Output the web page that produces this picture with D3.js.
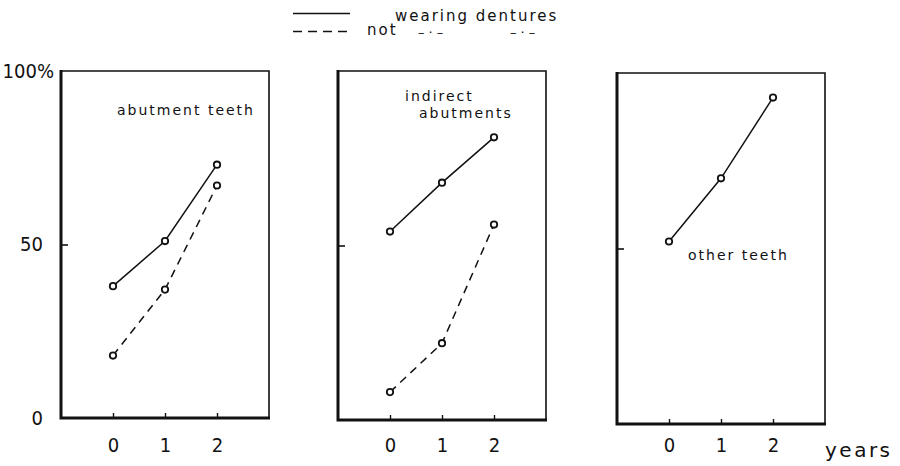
<!DOCTYPE html>
<html>
<head>
<meta charset="utf-8">
<script src="https://cdn.jsdelivr.net/npm/d3@7"></script>
<style>
  html, body { margin: 0; padding: 0; background: #fff; }
  svg { display: block; }
  .num { font-family: "DejaVu Sans Condensed", "DejaVu Sans", sans-serif; font-stretch: condensed; font-size: 20px; fill: #111; }
  .lbl { font-family: "DejaVu Sans", sans-serif; font-size: 14px; letter-spacing: 2px; fill: #111; }
</style>
</head>
<body>
<svg id="chart" width="900" height="466"></svg>
<script>
// ---- data ----
const years = [0, 1, 2];
const yTicks = [0, 50, 100];
const panelTitles = [["abutment teeth"], ["indirect", "abutments"], ["other teeth"]];
const wearingDentures = [[38, 51, 73], [54, 68, 81], [52, 70, 93]];
const notWearing = [[18, 37, 67], [8, 22, 56], null];
const legendLabels = ["wearing dentures", "not"];
const dittoMark = "–·–";
const xAxisLabel = "years";

// ---- layout ----
const panelLeft = [61, 338, 617];
const panelTop = [71, 71, 73];
const panelBottom = [418, 420, 424];
const panelWidth = 208;
const titlePos = [[[117, 115]], [[405, 101], [419, 118]], [[688, 260]]];

const svg = d3.select("#chart");
const ink = "#111";

panelLeft.forEach((left, i) => {
  const x = d3.scaleLinear().domain([-1, 3]).range([left, left + panelWidth]);
  const y = d3.scaleLinear().domain([0, 100]).range([panelBottom[i], panelTop[i]]);
  const g = svg.append("g");
  const top = panelTop[i], bottom = panelBottom[i], right = left + panelWidth;

  // frame: thin top/right, heavy left/bottom
  g.append("path").attr("d", `M${left},${top}H${right}V${bottom}`)
    .attr("fill", "none").attr("stroke", ink).attr("stroke-width", 1.6);
  g.append("path").attr("d", `M${left},${top - 1}V${bottom}H${right + 1}`)
    .attr("fill", "none").attr("stroke", ink).attr("stroke-width", 3);

  // inward ticks
  const yTickAxis = d3.axisLeft(y).tickValues([50]).tickSizeInner(-7).tickSizeOuter(0).tickFormat("");
  const yg = g.append("g").attr("transform", `translate(${left},0)`).call(yTickAxis);
  yg.select(".domain").remove();
  yg.selectAll("line").attr("stroke", ink).attr("stroke-width", 1.6);

  const xAxis = d3.axisBottom(x).tickValues(years).tickSizeInner(-5).tickSizeOuter(0).tickPadding(20).tickFormat(d3.format("d"));
  const xg = g.append("g").attr("transform", `translate(0,${bottom})`).call(xAxis);
  xg.select(".domain").remove();
  xg.selectAll("line").attr("stroke", ink).attr("stroke-width", 1.4);
  xg.selectAll("text").attr("class", "num").attr("fill", ink).attr("transform", `translate(0,${438 - bottom - 20})`);

  if (i === 0) {
    const yLabAxis = d3.axisLeft(y).tickValues(yTicks).tickSize(0).tickPadding(18)
      .tickFormat(d => d === 100 ? "100%" : String(d));
    const yl = g.append("g").attr("transform", `translate(${left},0)`).call(yLabAxis);
    yl.select(".domain").remove();
    yl.selectAll("text").attr("class", "num").attr("fill", ink)
      .attr("dx", d => d === 100 ? 11 : 0);
  }

  // series
  const line = d3.line().x((d, k) => x(years[k])).y(d => y(d));
  const series = [{ v: wearingDentures[i], dash: null }, { v: notWearing[i], dash: "8,6" }];
  series.forEach(s => {
    if (!s.v) return;
    g.append("path").datum(s.v).attr("d", line)
      .attr("fill", "none").attr("stroke", ink).attr("stroke-width", 1.5)
      .attr("stroke-dasharray", s.dash);
    g.selectAll(null).data(s.v).enter().append("circle")
      .attr("cx", (d, k) => x(years[k])).attr("cy", d => y(d)).attr("r", 3.2)
      .attr("fill", "#fff").attr("stroke", ink).attr("stroke-width", 1.8);
  });

  // titles
  panelTitles[i].forEach((t, k) => {
    svg.append("text").attr("class", "lbl")
      .attr("x", titlePos[i][k][0]).attr("y", titlePos[i][k][1]).text(t);
  });
});

// x axis label
svg.append("text").attr("class", "lbl").attr("x", 825).attr("y", 457)
  .style("font-size", "20px").style("letter-spacing", "2.5px").text(xAxisLabel);

// legend
const lg = svg.append("g");
lg.append("line").attr("x1", 293).attr("x2", 350).attr("y1", 13.5).attr("y2", 13.5)
  .attr("stroke", ink).attr("stroke-width", 1.5);
lg.append("line").attr("x1", 293).attr("x2", 352).attr("y1", 31.5).attr("y2", 31.5)
  .attr("stroke", ink).attr("stroke-width", 1.5).attr("stroke-dasharray", "9,6");
lg.append("text").attr("class", "lbl").attr("x", 395).attr("y", 21)
  .style("font-size", "15px").text(legendLabels[0]);
lg.append("text").attr("class", "lbl").attr("x", 367).attr("y", 35)
  .style("font-size", "15px").text(legendLabels[1]);
[418, 510].forEach(x0 => {
  lg.append("text").attr("class", "lbl").attr("x", x0).attr("y", 37)
    .style("font-size", "13px").style("letter-spacing", "4px").text(dittoMark);
});
</script>
</body>
</html>
